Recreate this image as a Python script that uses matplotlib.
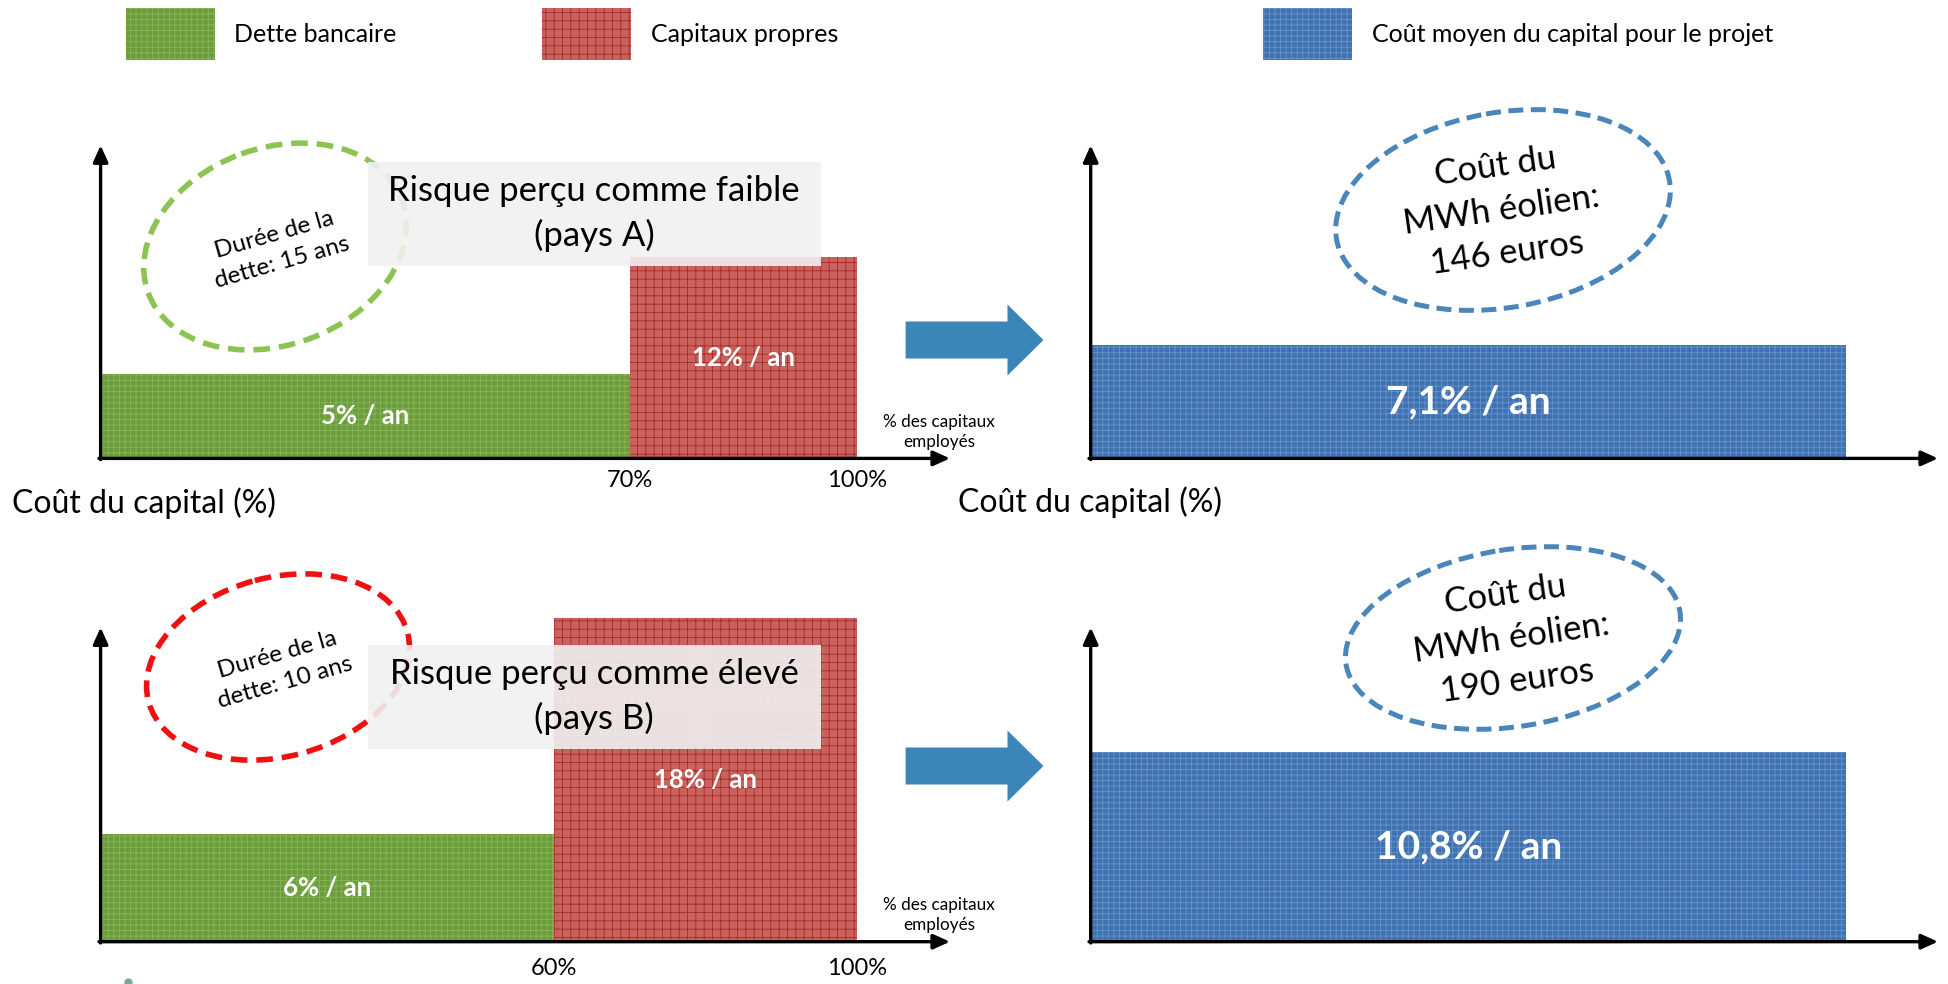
import matplotlib
matplotlib.use('Agg')
import matplotlib.pyplot as plt
import numpy as np
from matplotlib.patches import Ellipse, Rectangle, FancyArrow

plt.rcParams['font.family'] = ['Lato', 'DejaVu Sans']
plt.rcParams['hatch.linewidth'] = 0.6

# donnees
pays = ['A', 'B']
risque = ['faible', 'élevé']
part_dette = [70, 60]          # % des capitaux employes
part_capitaux = [30, 40]
taux_dette = [5, 6]            # % / an
taux_capitaux = [12, 18]
cout_moyen = [7.1, 10.8]
cout_mwh = [146, 190]          # euros
duree_dette = [15, 10]         # ans

W, H = 1948, 984
fig = plt.figure(figsize=(W / 100, H / 100), dpi=100)

# couleurs (fond + trame fine)
vert, vert_h, vert_t = '#6c9d3b', '#88b45c', '+++'
rouge, rouge_h, rouge_t = '#c9625d', '#a52a26', '++'
bleu, bleu_h, bleu_t = '#3e72b1', '#6a92c9', '+++'
fleche = '#3b86b9'


def axes_px(x0, y0, x1, y1):
    # axes places en pixels (origine en haut a gauche)
    return fig.add_axes([x0 / W, 1 - y1 / H, (x1 - x0) / W, (y1 - y0) / H])


def fleches_axes(ax):
    ax.axis('off')
    kw = dict(arrowstyle='-|>,head_length=1.0,head_width=0.45', lw=2.4,
              color='black', shrinkA=0, shrinkB=0)
    ax.annotate('', xy=(1, 0), xytext=(-0.002, 0), xycoords='axes fraction',
                arrowprops=kw, annotation_clip=False)
    ax.annotate('', xy=(0, 1), xytext=(0, -0.004), xycoords='axes fraction',
                arrowprops=kw, annotation_clip=False)


def fmt(v):
    return (f'{v:g}').replace('.', ',') + '% / an'


rows = [(145.3, 458.4), (627.4, 941.7)]
ymax_g = [18.64, 17.46]
ymax_d = [19.69, 17.86]
pad_ticks = [8, 12]

for i in range(2):
    top, bot = rows[i]

    # panneau gauche : structure du financement
    ax = axes_px(100.6, top, 950, bot)
    ax.set_xlim(0, 112.3)
    ax.set_ylim(0, ymax_g[i])
    ax.bar([0], [taux_dette[i]], width=[part_dette[i]], align='edge',
           color=vert, edgecolor=vert_h, linewidth=0, hatch=vert_t,
           clip_on=False)
    ax.bar([part_dette[i]], [taux_capitaux[i]], width=[part_capitaux[i]],
           align='edge', color=rouge, edgecolor=rouge_h, linewidth=0,
           hatch=rouge_t, clip_on=False)
    ax.text(part_dette[i] / 2, taux_dette[i] / 2, fmt(taux_dette[i]),
            color='white', fontweight='bold', fontsize=18.5, ha='center', va='center')
    ax.text(part_dette[i] + part_capitaux[i] / 2, taux_capitaux[i] / 2,
            fmt(taux_capitaux[i]), color='white', fontweight='bold',
            fontsize=18.5, ha='center', va='center')
    fleches_axes(ax)
    for xv in [part_dette[i], 100]:
        ax.annotate(f'{xv}%', xy=(xv, 0), xytext=(0, -pad_ticks[i]),
                    textcoords='offset points', ha='center', va='top',
                    fontsize=17, annotation_clip=False)
    ax.annotate('% des capitaux\nemployés', xy=(0.987, 0), xycoords='axes fraction',
                xytext=(0, 19), textcoords='offset points', ha='center',
                va='center', fontsize=12.3, linespacing=1.3, annotation_clip=False)

    # panneau droit : cout moyen du capital
    ax2 = axes_px(1090.7, top, 1938, bot)
    ax2.set_xlim(0, 112.2)
    ax2.set_ylim(0, ymax_d[i])
    ax2.bar([0], [cout_moyen[i]], width=[100], align='edge', color=bleu,
            edgecolor=bleu_h, linewidth=0, hatch=bleu_t)
    ax2.text(50, cout_moyen[i] / 2, fmt(cout_moyen[i]), color='white',
             fontweight='bold', fontsize=28, ha='center', va='center')
    fleches_axes(ax2)

# calque de decoration en pixels
ov = fig.add_axes([0, 0, 1, 1])
ov.set_xlim(0, W)
ov.set_ylim(H, 0)
ov.axis('off')

# legende
leg = [(125.5, vert, vert_h, vert_t, 'Dette bancaire'),
       (541.6, rouge, rouge_h, rouge_t, 'Capitaux propres'),
       (1263.4, bleu, bleu_h, bleu_t, 'Coût moyen du capital pour le projet')]
for x0, c, ch, hh, lab in leg:
    ov.add_patch(Rectangle((x0, 7.5), 89, 52, facecolor=c, edgecolor=ch,
                           linewidth=0, hatch=hh))
    ov.text(x0 + 109, 35, lab, fontsize=18, va='center', ha='left')

# ellipses duree de la dette
ell_g = [((275, 246.5), 270, 197, -20, '#8cc453'), ((278, 667), 268, 179, -15, '#ee1111')]
for i, (c, w, h, ang, col) in enumerate(ell_g):
    ov.add_patch(Ellipse(c, w, h, angle=ang, fill=False, edgecolor=col, lw=4,
                         linestyle=(0, (3, 1.6)), zorder=1))
    ov.text(c[0] + 3, c[1] + 2, f'Durée de la\ndette: {duree_dette[i]} ans',
            rotation=16, rotation_mode='anchor', ha='center', va='center',
            fontsize=17.5, linespacing=1.45, zorder=1)

# cadres risque
boxes = [161.5, 644.8]
for i, y0 in enumerate(boxes):
    ov.add_patch(Rectangle((367.7, y0), 453.3, 104.3, facecolor='#f1f1f1',
                           edgecolor='none', alpha=0.9, zorder=2))
    ov.text(594, y0 + 52, f'Risque perçu comme {risque[i]}\n(pays {pays[i]})',
            ha='center', va='center', fontsize=25, linespacing=1.45, zorder=3)

# ellipses cout du MWh
ell_b = [((1503, 210), 338, 195, -10), ((1513, 638), 338, 177, -9)]
for i, (c, w, h, ang) in enumerate(ell_b):
    ov.add_patch(Ellipse(c, w, h, angle=ang, fill=False, edgecolor='#4a86ba',
                         lw=3.6, linestyle=(0, (3, 1.5)), zorder=1))
    ov.text(c[0] - 2, c[1], f'Coût du\nMWh éolien:\n{cout_mwh[i]} euros',
            rotation=8, rotation_mode='anchor', ha='center', va='center',
            fontsize=25, linespacing=1.45, zorder=3)

# fleches bleues
for yc in [340, 766]:
    ov.add_patch(FancyArrow(905.6, yc, 137.9, 0, width=37, head_width=71,
                            head_length=36, length_includes_head=True,
                            color=fleche, linewidth=0))

# libelles axe vertical
for x0, y0 in [(12, 503), (958, 502)]:
    ov.text(x0, y0, 'Coût du capital (%)', fontsize=23, va='center', ha='left')

# petit point parasite en bas
ov.plot([128], [982], 'o', color='#7aa898', markersize=5, clip_on=False)

fig.savefig('out.png', dpi=100)
